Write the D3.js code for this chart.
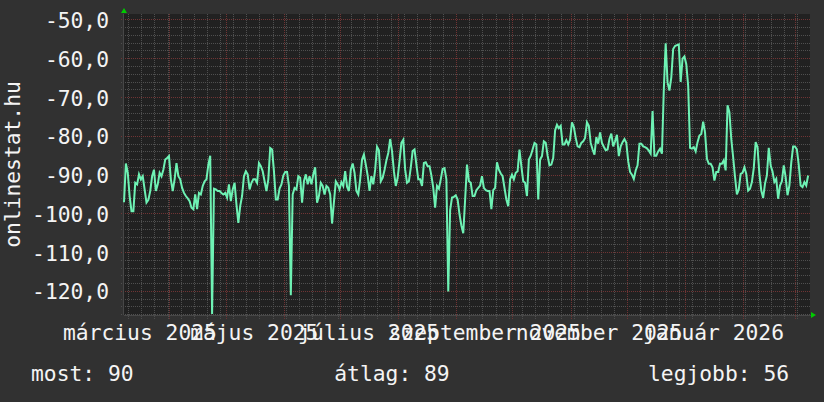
<!DOCTYPE html>
<html>
<head>
<meta charset="utf-8">
<script src="https://cdn.jsdelivr.net/npm/d3@7"></script>
<style>
  html, body { margin: 0; padding: 0; background: #313131; }
  svg { display: block; }
  text { font-family: "DejaVu Sans Mono", monospace; fill: #f4f4f4; }
</style>
</head>
<body>
<svg id="chart"></svg>
<script>

// daily signal values (dBm) starting at startDay
var startDay = new Date(2025, 2, 7, 12);
var signal = [
  -97, -87, -89.4, -95.4, -99.3, -99.3, -92, -92.4, -89.8, -91.1,
  -90.3, -93.7, -97.1, -96.4, -94.1, -90.3, -88.6, -94.1, -92.4, -89.4,
  -90.3, -88.6, -86, -85.6, -85.1, -91.1, -94.1, -91.1, -86.9, -90.3,
  -91.1, -93.3, -94.6, -95.4, -96, -96.7, -98.4, -98.8, -95, -98.8,
  -94.6, -95, -92.8, -91.6, -91.1, -87.3, -85, -125.8, -93.5, -93.7,
  -94.1, -94.1, -94.6, -95, -94.6, -95.8, -92.4, -96.7, -93.7, -92,
  -97.6, -102.3, -98, -95.4, -90.3, -89, -89.8, -93.7, -92, -91.1,
  -91.1, -92, -86.9, -87.7, -89, -91.6, -94.1, -91.1, -83, -83.4,
  -89, -96.3, -96.3, -93.5, -92.4, -90.1, -89.2, -89.2, -92.8, -121,
  -95, -93.3, -93.7, -90.3, -90.7, -97.1, -91.6, -89.8, -92.4, -90.3,
  -92.4, -89.8, -88, -97.1, -95.4, -92, -92.8, -95, -92.8, -93.3,
  -95, -102.5, -97, -91.6, -92.4, -93.7, -91.8, -92.8, -89, -93,
  -94.1, -88.6, -87, -89.4, -94.1, -95, -91.1, -86, -84.7, -87.3,
  -90.1, -94.1, -90.3, -92.4, -88.6, -82.7, -83.6, -91.6, -90.7, -88.7,
  -86.2, -84.3, -80.7, -83.8, -89, -92.8, -90.7, -86.4, -81.7, -80.9,
  -88.6, -92, -91.6, -88.1, -83.8, -83.4, -87.3, -91.1, -91.1, -92.8,
  -86.9, -86.7, -87.7, -87.7, -90.1, -93.3, -98.4, -92.8, -93.5, -91.1,
  -88.4, -88.2, -91.1, -120, -99, -95.8, -95.6, -95.2, -96.3, -100.1,
  -103, -105, -96.3, -87.3, -91.6, -92, -95.4, -95.4, -93.9, -93.3,
  -92.7, -90.3, -93.3, -93.9, -94.1, -94.1, -98.8, -93.9, -93.3, -86.7,
  -88.6, -89.6, -90.3, -93.3, -96.3, -98, -91.1, -89.9, -91.1, -89.4,
  -89, -83.4, -87.7, -91.6, -92, -95.4, -86, -85, -83.4, -81.7,
  -82.1, -96.3, -86, -85.1, -81.3, -81.7, -85, -87.5, -87.3, -85.6,
  -78.5, -77, -77.9, -77.3, -82.1, -82.1, -81, -82.1, -80.9, -76.4,
  -77.6, -80.4, -82.6, -82.8, -81.7, -81.3, -80.4, -76.4, -77.3, -81.7,
  -83.4, -84.7, -80.2, -81.9, -79, -81.7, -82.7, -83.6, -83.4, -80.7,
  -79.3, -82.6, -81.3, -79.6, -85.1, -82.6, -81.5, -80.7, -81.7, -86.4,
  -89.2, -89.9, -91, -88.8, -87.5, -81.9, -81.9, -82.6, -82.8, -83.1,
  -83.7, -84.5, -73.5, -85, -85, -83.9, -83.2, -84.5, -68, -56,
  -66.1, -68.2, -64.8, -57.5, -56.7, -56.5, -56.3, -66, -60, -59.4,
  -61.4, -67, -83, -83.2, -82.8, -83.9, -81.5, -79.8, -79.4, -76.2,
  -79, -85.8, -87.1, -87.1, -88, -91.4, -89.2, -89.2, -87.1, -87.1,
  -86.2, -88.8, -72, -73.8, -80.7, -85.4, -90.5, -95, -93.7, -89.7,
  -89.4, -88, -89.7, -94, -93.5, -91.8, -88.2, -81.5, -82.8, -89.7,
  -94, -95.9, -92.2, -90.1, -83, -87.5, -89.1, -91.8, -91, -96.1,
  -92.7, -91.6, -87.5, -90.5, -95.2, -92.7, -86.8, -82.6, -82.6, -83.4,
  -87.4, -92.7, -93.1, -91.8, -92.7, -90.1
];

// axis labels
var yTicks = [-50, -60, -70, -80, -90, -100, -110, -120];
var monthLabels = ["március 2025", "május 2025", "július 2025", "szeptember 2025", "november 2025", "január 2026"];
var labelMonths = [new Date(2025, 2, 1), new Date(2025, 4, 1), new Date(2025, 6, 1), new Date(2025, 8, 1), new Date(2025, 10, 1), new Date(2026, 0, 1)];
var axisTitle = "onlinestat.hu";
var legendLabels = ["most: 90", "átlag: 89", "legjobb: 56"];

// canvas and plot area
var width = 824, height = 402;
var plot = {left: 124, right: 810, top: 14, bottom: 315};
var minorColor = "#4f4f4f", majorColor = "#703434";

var svg = d3.select("#chart")
  .attr("width", width)
  .attr("height", height);

svg.append("rect")
  .attr("width", width)
  .attr("height", height)
  .attr("fill", "#313131");

svg.append("rect")
  .attr("x", plot.left)
  .attr("y", plot.top)
  .attr("width", plot.right - plot.left)
  .attr("height", plot.bottom - plot.top)
  .attr("fill", "#212121");

var endDay = d3.timeDay.offset(startDay, 366);

var x = d3.scaleTime()
  .domain([startDay, endDay])
  .range([plot.left, plot.right]);

var y = d3.scaleLinear()
  .domain([-126.08, -48.46])
  .range([plot.bottom, plot.top]);

var hu = d3.formatLocale({decimal: ",", thousands: " ", grouping: [3], currency: ["", " Ft"], minus: "-"});
var fmt = hu.format(".1f");

// a dotted line as a row of 1px squares, every second pixel
function dotRow(x0, y0, len, horizontal) {
  var d = "";
  for (var k = 0; k < len; k += 2) {
    var px = horizontal ? x0 + k : x0;
    var py = horizontal ? y0 : y0 + k;
    d += "M" + px + "," + py + "h1v1h-1z";
  }
  return d;
}

var grid = svg.append("g").attr("shape-rendering", "crispEdges");

function hLines(values, color) {
  grid.selectAll(null)
    .data(values)
    .enter().append("path")
    .attr("d", function(d) { return dotRow(plot.left - 3, Math.floor(y(d)), plot.right - plot.left + 3, true); })
    .attr("fill", color);
}
function vLines(values, color) {
  grid.selectAll(null)
    .data(values)
    .enter().append("path")
    .attr("d", function(d) { return dotRow(Math.floor(x(d)), plot.top, plot.bottom - plot.top + 4, false); })
    .attr("fill", color);
}

// minor grid - every 2 units and weekly, major grid - every 10 units and monthly
var minorY = d3.range(-126, -48, 2).filter(function(v) { return v % 10 != 0; });
var weeks = d3.timeMonday.range(startDay, endDay);
var months = d3.timeMonth.range(startDay, endDay);
hLines(minorY, minorColor);
vLines(weeks, minorColor);
hLines(yTicks, majorColor);
vLines(months, majorColor);

// axis lines
grid.append("rect")
  .attr("x", plot.left - 1).attr("y", plot.top)
  .attr("width", 1).attr("height", plot.bottom - plot.top)
  .attr("fill", "#474747");
grid.append("rect")
  .attr("x", plot.left).attr("y", plot.bottom)
  .attr("width", plot.right - plot.left + 2).attr("height", 1)
  .attr("fill", "#474747");

// the signal line
var line = d3.line()
  .x(function(d, i) { return x(d3.timeDay.offset(startDay, i)); })
  .y(function(d) { return y(d); });

svg.append("path")
  .datum(signal)
  .attr("d", line)
  .attr("fill", "none")
  .attr("stroke", "#6ef2b4")
  .attr("stroke-width", 2)
  .attr("stroke-linejoin", "miter");

// arrows on the axes
svg.append("path")
  .attr("d", "M" + (plot.left - 3) + "," + (plot.top - 1) + "L" + (plot.left + 3) + "," + (plot.top - 1) + "L" + plot.left + "," + (plot.top - 6) + "Z")
  .attr("fill", "#00cc00");
svg.append("path")
  .attr("d", "M" + (plot.right + 1) + "," + (plot.bottom - 3) + "L" + (plot.right + 1) + "," + (plot.bottom + 3) + "L" + (plot.right + 6) + "," + plot.bottom + "Z")
  .attr("fill", "#00cc00");

// y labels
svg.selectAll(".ylab")
  .data(yTicks)
  .enter().append("text")
  .attr("x", 109)
  .attr("y", function(d) { return y(d) + 8; })
  .attr("text-anchor", "end")
  .style("font-size", "21.3px")
  .text(function(d) { return fmt(d); });

// month labels, centred half a month after the month start
svg.selectAll(".xlab")
  .data(monthLabels)
  .enter().append("text")
  .attr("x", function(d, i) { return x(d3.timeDay.offset(labelMonths[i], 15)); })
  .attr("y", 339.5)
  .attr("text-anchor", "middle")
  .style("font-size", "21.3px")
  .text(function(d) { return d; });

// vertical title
svg.append("text")
  .attr("transform", "translate(20," + ((plot.top + plot.bottom) / 2) + ") rotate(-90)")
  .attr("text-anchor", "middle")
  .style("font-size", "21.3px")
  .text(axisTitle);

// legend
var legendX = [31, 392, 648];
var legendAnchor = ["start", "middle", "start"];
svg.selectAll(".legend")
  .data(legendLabels)
  .enter().append("text")
  .attr("x", function(d, i) { return legendX[i]; })
  .attr("y", 381)
  .attr("text-anchor", function(d, i) { return legendAnchor[i]; })
  .style("font-size", "21.3px")
  .text(function(d) { return d; });

</script>
</body>
</html>
